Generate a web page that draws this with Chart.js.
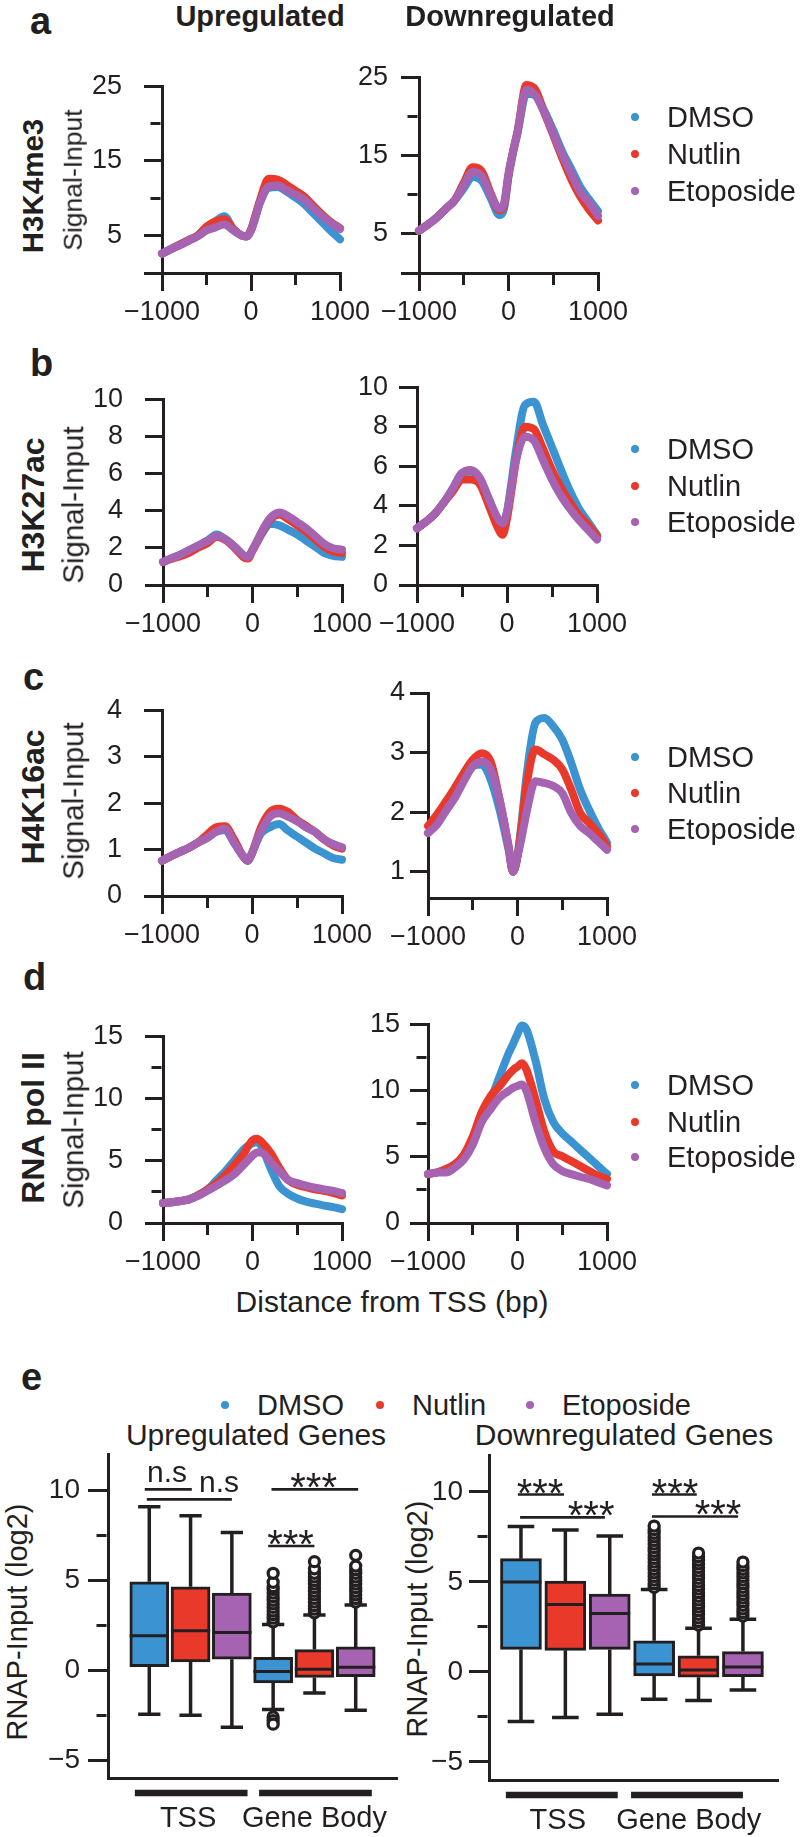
<!DOCTYPE html>
<html>
<head>
<meta charset="utf-8">
<script src="https://cdn.jsdelivr.net/npm/chart.js@4.4.1/dist/chart.umd.min.js"></script>
<style>
  body { margin: 0; background: #fff; }
  #fig { position: relative; width: 800px; height: 1837px; overflow: hidden;
         font-family: "Liberation Sans", Arial, Helvetica, sans-serif; color: #231f20; }
  #fig canvas { position: absolute; }
  .t { position: absolute; line-height: 1; white-space: nowrap; }
  .dot { position: absolute; width: 8px; height: 8px; border-radius: 50%; }
</style>
</head>
<body>
<div id="fig"></div>
<script>
// ---- data ----
const conditions = ['DMSO', 'Nutlin', 'Etoposide'];
const colors = ['#3b93d1', '#e8392b', '#a563b2'];
const distance = [-1000, -900, -800, -700, -600, -500, -400, -300, -200, -100, -50, 0, 50, 100, 200, 300, 400, 500, 600, 700, 800, 900, 1000];

// a: H3K4me3
const h3k4me3UpDMSO = [2.6, 3.2, 3.8, 4.4, 5.0, 6.1, 6.9, 7.6, 5.9, 5.0, 4.9, 5.7, 7.5, 9.4, 11.4, 11.5, 10.9, 10.1, 9.2, 8.0, 6.8, 5.6, 4.5];
const h3k4me3UpNutlin = [2.6, 3.2, 3.8, 4.4, 5.0, 6.2, 6.9, 7.2, 5.9, 5.0, 4.9, 5.8, 7.7, 9.7, 12.6, 12.5, 11.8, 11.0, 10.2, 9.0, 7.8, 6.8, 6.0];
const h3k4me3UpEtop = [2.6, 3.2, 3.7, 4.3, 4.9, 5.7, 6.1, 6.5, 5.7, 5.0, 4.9, 5.7, 7.5, 9.4, 11.6, 11.7, 11.1, 10.5, 9.8, 8.7, 7.6, 6.7, 5.9];
const h3k4me3DownDMSO = [5.4, 6.2, 7.1, 8.2, 9.3, 10.8, 12.3, 11.8, 9.6, 7.4, 8.2, 12.3, 15.3, 17.8, 22.9, 22.7, 20.7, 18.2, 15.5, 13.3, 11.0, 9.4, 7.9];
const h3k4me3DownNutlin = [5.4, 6.2, 7.1, 8.2, 9.3, 11.5, 13.5, 13.0, 10.2, 8.0, 8.6, 12.5, 15.5, 18.0, 24.0, 23.4, 20.5, 17.6, 14.7, 12.0, 9.8, 8.1, 6.7];
const h3k4me3DownEtop = [5.4, 6.2, 7.1, 8.2, 9.3, 11.2, 12.9, 12.4, 10.0, 8.2, 8.9, 12.7, 15.5, 18.0, 23.4, 22.7, 20.5, 17.8, 15.1, 12.7, 10.4, 9.0, 7.3];

// b: H3K27ac
const h3k27acUpDMSO = [1.24, 1.45, 1.65, 1.9, 2.14, 2.4, 2.72, 2.45, 2.06, 1.6, 1.5, 1.9, 2.3, 2.72, 3.3, 3.21, 2.97, 2.72, 2.39, 2.06, 1.73, 1.57, 1.52];
const h3k27acUpNutlin = [1.24, 1.42, 1.56, 1.76, 2.03, 2.26, 2.6, 2.42, 2.0, 1.5, 1.42, 1.85, 2.3, 2.8, 3.54, 3.79, 3.54, 3.21, 2.88, 2.47, 2.06, 1.81, 1.73];
const h3k27acUpEtop = [1.24, 1.45, 1.65, 1.9, 2.14, 2.39, 2.64, 2.45, 2.06, 1.6, 1.5, 1.9, 2.35, 2.85, 3.62, 3.9, 3.7, 3.38, 3.05, 2.64, 2.22, 1.98, 1.9];
const h3k27acDownDMSO = [2.87, 3.2, 3.6, 4.18, 4.9, 5.66, 5.74, 5.33, 4.34, 3.2, 3.03, 3.69, 5.2, 6.8, 9.1, 9.26, 8.1, 6.97, 5.82, 4.75, 3.85, 3.2, 2.54];
const h3k27acDownNutlin = [2.87, 3.2, 3.6, 4.18, 4.75, 5.33, 5.33, 5.08, 4.0, 2.87, 2.54, 3.36, 4.8, 6.3, 8.0, 7.87, 6.89, 5.82, 4.92, 4.18, 3.52, 3.03, 2.46];
const h3k27acDownEtop = [2.87, 3.2, 3.6, 4.18, 4.9, 5.66, 5.82, 5.41, 4.34, 3.36, 3.11, 3.69, 5.0, 6.3, 7.5, 7.3, 6.31, 5.33, 4.51, 3.85, 3.28, 2.79, 2.3];

// c: H4K16ac
const h4k16acUpDMSO = [0.76, 0.86, 0.95, 1.04, 1.15, 1.25, 1.38, 1.42, 1.15, 0.86, 0.76, 0.92, 1.15, 1.35, 1.48, 1.55, 1.41, 1.28, 1.15, 1.02, 0.92, 0.82, 0.78];
const h4k16acUpNutlin = [0.76, 0.86, 0.95, 1.04, 1.15, 1.32, 1.48, 1.5, 1.22, 0.86, 0.76, 0.92, 1.2, 1.48, 1.81, 1.88, 1.81, 1.64, 1.51, 1.38, 1.22, 1.09, 1.02];
const h4k16acUpEtop = [0.76, 0.86, 0.95, 1.04, 1.15, 1.25, 1.38, 1.45, 1.15, 0.86, 0.76, 0.92, 1.18, 1.4, 1.71, 1.78, 1.71, 1.61, 1.48, 1.38, 1.22, 1.12, 1.05];
const h4k16acDownDMSO = [1.65, 1.85, 2.1, 2.32, 2.58, 2.77, 2.8, 2.55, 2.04, 1.37, 1.0, 1.26, 1.88, 2.6, 3.5, 3.58, 3.44, 3.22, 2.83, 2.38, 2.04, 1.74, 1.49];
const h4k16acDownNutlin = [1.77, 1.96, 2.18, 2.41, 2.66, 2.88, 2.99, 2.85, 2.21, 1.43, 1.0, 1.26, 1.82, 2.44, 3.05, 2.97, 2.88, 2.72, 2.38, 1.99, 1.82, 1.65, 1.43];
const h4k16acDownEtop = [1.65, 1.79, 2.02, 2.24, 2.52, 2.77, 2.85, 2.72, 2.21, 1.43, 1.0, 1.26, 1.6, 1.99, 2.52, 2.49, 2.44, 2.32, 1.99, 1.77, 1.65, 1.51, 1.37];

// d: RNA pol II
const polUpDMSO = [1.6, 1.67, 1.77, 1.92, 2.26, 2.7, 3.44, 4.18, 5.04, 5.9, 6.2, 6.39, 6.52, 6.15, 4.43, 2.95, 2.34, 1.97, 1.72, 1.55, 1.4, 1.28, 1.11];
const polUpNutlin = [1.6, 1.67, 1.77, 1.92, 2.26, 2.7, 3.2, 3.88, 4.67, 5.53, 6.15, 6.64, 6.76, 6.52, 5.66, 4.43, 3.44, 3.07, 2.88, 2.7, 2.58, 2.41, 2.21];
const polUpEtop = [1.6, 1.67, 1.77, 1.92, 2.2, 2.6, 3.0, 3.44, 3.93, 4.67, 5.04, 5.41, 5.66, 5.66, 4.92, 4.18, 3.44, 3.2, 3.0, 2.83, 2.7, 2.58, 2.41];
const polDownDMSO = [3.69, 3.81, 4.06, 4.43, 4.92, 6.39, 8.11, 9.34, 11.06, 12.79, 13.5, 14.26, 14.9, 14.6, 12.29, 9.34, 7.62, 6.76, 6.15, 5.53, 4.92, 4.3, 3.69];
const polDownNutlin = [3.69, 3.81, 4.06, 4.43, 5.16, 6.52, 8.36, 9.59, 10.33, 11.19, 11.55, 11.8, 12.05, 11.56, 9.34, 6.88, 5.41, 5.04, 4.67, 4.3, 3.93, 3.57, 3.32];
const polDownEtop = [3.69, 3.81, 3.81, 4.18, 4.79, 5.9, 7.62, 8.6, 9.47, 9.96, 10.2, 10.33, 10.45, 9.96, 7.62, 5.66, 4.43, 3.93, 3.69, 3.49, 3.32, 3.07, 2.83];

// e: RNAP-Input box plots (boxes 1-3 TSS, 4-6 gene body; DMSO, Nutlin, Etoposide)
const boxPositions = [1, 2, 3, 4, 5, 6];
const upMin = [-2.45, -2.5, -3.17, -2.18, -1.27, -2.23];
const upQ1 = [0.2, 0.46, 0.62, -0.7, -0.4, -0.36];
const upMedian = [1.92, 2.2, 2.1, -0.07, 0.06, 0.17];
const upQ3 = [4.93, 4.65, 4.3, 0.72, 1.15, 1.3];
const upMax = [9.1, 8.6, 7.67, 2.55, 3.08, 3.63];
const upOutliers = [[], [], [],
  [2.7, 2.9, 3.1, 3.3, 3.5, 3.7, 3.9, 4.1, 4.3, 4.5, 4.65, 4.9, 5.4, -2.6, -2.8, -3.0],
  [3.2, 3.4, 3.6, 3.8, 4.0, 4.2, 4.4, 4.6, 4.8, 5.0, 5.2, 5.4, 5.65, 6.05],
  [3.8, 4.0, 4.2, 4.4, 4.6, 4.8, 5.0, 5.2, 5.4, 5.6, 5.8, 6.4]];
const downMin = [-2.75, -2.53, -2.35, -1.51, -1.59, -1.0];
const downQ1 = [1.25, 1.2, 1.25, -0.22, -0.29, -0.26];
const downMedian = [5.0, 3.75, 3.25, 0.44, 0.11, 0.27];
const downQ3 = [6.29, 5.04, 4.32, 1.73, 0.9, 1.13];
const downMax = [8.08, 7.88, 7.55, 4.58, 2.42, 2.93];
const downOutliers = [[], [], [],
  [4.7, 4.9, 5.1, 5.3, 5.5, 5.7, 5.9, 6.1, 6.3, 6.5, 6.7, 6.9, 7.1, 7.3, 7.5, 7.7, 7.9, 8.1],
  [2.6, 2.8, 3.0, 3.2, 3.4, 3.6, 3.8, 4.0, 4.2, 4.4, 4.6, 4.8, 5.0, 5.2, 5.4, 5.6, 5.8, 6.0, 6.2, 6.4, 6.6],
  [3.1, 3.3, 3.5, 3.7, 3.9, 4.1, 4.3, 4.5, 4.7, 4.9, 5.1, 5.3, 5.5, 5.7, 5.9, 6.1]];

const upSignif = [
  { from: 0.89, to: 2.03, y: 10.07, text: 'n.s', at: 1.43 },
  { from: 0.94, to: 3.0, y: 9.52, text: 'n.s', at: 2.69 },
  { from: 3.96, to: 6.06, y: 10.07, text: '***', at: 4.98 },
  { from: 3.88, to: 5.0, y: 6.92, text: '***', at: 4.42 }
];
const downSignif = [
  { from: 0.93, to: 1.97, y: 9.85, text: '***', at: 1.43 },
  { from: 0.98, to: 2.89, y: 8.58, text: '***', at: 2.58 },
  { from: 3.95, to: 4.96, y: 9.85, text: '***', at: 4.47 },
  { from: 3.95, to: 5.89, y: 8.63, text: '***', at: 5.44 }
];
const upGroups = [{ label: 'TSS', from: 0.65, to: 3.38, at: 1.94 }, { label: 'Gene Body', from: 3.66, to: 6.39, at: 5.0 }];
const downGroups = [{ label: 'TSS', from: 0.66, to: 3.18, at: 1.83 }, { label: 'Gene Body', from: 3.48, to: 6.0, at: 4.78 }];

// ---- helpers ----
const ink = '#231f20';
const FONT = '"Liberation Sans", Arial, Helvetica, sans-serif';
Chart.defaults.font.family = FONT;
Chart.defaults.color = ink;
const fig = document.getElementById('fig');
const minus = v => (v < 0 ? '\u2212' + Math.abs(v) : String(v));

function addCanvas(left, top, width, height) {
  const c = document.createElement('canvas');
  c.width = width; c.height = height;
  Object.assign(c.style, { left: left + 'px', top: top + 'px', width: width + 'px', height: height + 'px' });
  fig.appendChild(c);
  return c;
}

// text with baseline at y
function text(str, x, y, size, bold, align) {
  const d = document.createElement('div');
  d.className = 't';
  d.textContent = str;
  d.style.fontSize = size + 'px';
  d.style.fontWeight = bold ? 'bold' : 'normal';
  d.style.top = (y - 0.8465 * size) + 'px';
  d.style.left = x + 'px';
  if (align === 'center') d.style.transform = 'translateX(-50%)';
  fig.appendChild(d);
}
// rotated text, centred on (x, y)
function vtext(str, x, y, size, bold) {
  const d = document.createElement('div');
  d.className = 't';
  d.textContent = str;
  d.style.fontSize = size + 'px';
  d.style.fontWeight = bold ? 'bold' : 'normal';
  d.style.left = x + 'px';
  d.style.top = y + 'px';
  d.style.transform = 'translate(-50%,-50%) rotate(-90deg)';
  fig.appendChild(d);
}
function legend(x, ys) {
  conditions.forEach((name, i) => {
    const dot = document.createElement('div');
    dot.className = 'dot';
    dot.style.background = colors[i];
    dot.style.left = (x - 4) + 'px';
    dot.style.top = (ys[i] - 4) + 'px';
    fig.appendChild(dot);
    text(name, x + 32, ys[i] + 10.4, 29, false);
  });
}

function yAxis(o) {
  const tl = o.tickLength || 18, ml = o.minorLength || 10;
  return {
    type: 'linear', min: o.min, max: o.max,
    afterFit: s => { s.width = o.width; },
    border: { color: ink, width: 3 },
    grid: {
      drawOnChartArea: false, color: ink, tickColor: ink, lineWidth: 3, tickWidth: 3, tickLength: tl,
      tickBorderDash: c => (c.tick && o.minor(c.tick.value) ? [0, tl - ml - 1.5, ml, 300] : [])
    },
    ticks: {
      stepSize: o.step, padding: o.padding, autoSkip: false, includeBounds: o.includeBounds !== false,
      font: { size: o.fontSize || 27 }, color: ink,
      callback: v => (o.label(v) ? minus(v) : '')
    }
  };
}

function profileChart(area, series, yOpts) {
  const yW = 100, xH = 60, padT = 22, padR = 50;
  const canvas = addCanvas(area.left - yW, area.top - padT, area.right - area.left + yW + padR, area.bottom - area.top + padT + xH);
  new Chart(canvas, {
    type: 'line',
    data: {
      datasets: series.map((vals, i) => ({
        label: conditions[i],
        data: distance.map((d, k) => ({ x: d, y: vals[k] })),
        borderColor: colors[i], backgroundColor: colors[i],
        borderWidth: 8, pointRadius: 0, cubicInterpolationMode: 'monotone',
        borderCapStyle: 'round', borderJoinStyle: 'round', clip: false, order: 3 - i
      }))
    },
    options: {
      responsive: false, animation: false, events: [],
      layout: { padding: { top: padT, right: padR, left: 0, bottom: 0 }, autoPadding: false },
      plugins: { legend: { display: false }, tooltip: { enabled: false } },
      scales: {
        x: {
          type: 'linear', min: -1000, max: 1000,
          afterFit: s => { s.height = xH; },
          border: { color: ink, width: 3 },
          grid: {
            drawOnChartArea: false, color: ink, tickColor: ink, lineWidth: 3, tickWidth: 3, tickLength: 18,
            tickBorderDash: c => (c.tick && c.tick.value % 1000 !== 0 ? [10, 300] : [])
          },
          ticks: {
            stepSize: 500, padding: 5, autoSkip: false, maxRotation: 0, font: { size: 27 }, color: ink,
            callback: v => (v % 1000 === 0 ? minus(v) : '')
          }
        },
        y: yAxis(Object.assign({ width: yW }, yOpts))
      }
    }
  });
}

const boxAnnotations = {
  id: 'boxAnnotations',
  afterDatasetsDraw(chart, args, o) {
    const { ctx, chartArea } = chart;
    const x = chart.scales.x, y = chart.scales.y;
    ctx.save();
    ctx.strokeStyle = ink; ctx.fillStyle = ink; ctx.textAlign = 'center'; ctx.textBaseline = 'alphabetic';
    o.signif.forEach(s => {
      const yy = y.getPixelForValue(s.y);
      ctx.lineWidth = 2.7;
      ctx.beginPath();
      ctx.moveTo(x.getPixelForValue(s.from), yy);
      ctx.lineTo(x.getPixelForValue(s.to), yy);
      ctx.stroke();
      if (s.text === 'n.s') {
        ctx.font = '30px ' + FONT;
        ctx.fillText(s.text, x.getPixelForValue(s.at), yy - 7);
      } else {
        ctx.font = '40px ' + FONT;
        ctx.fillText(s.text, x.getPixelForValue(s.at), yy + 12);
      }
    });
    ctx.font = '29px ' + FONT;
    o.groups.forEach(g => {
      ctx.lineWidth = 6.5;
      ctx.beginPath();
      ctx.moveTo(x.getPixelForValue(g.from), chartArea.bottom + 15);
      ctx.lineTo(x.getPixelForValue(g.to), chartArea.bottom + 15);
      ctx.stroke();
      ctx.fillText(g.label, x.getPixelForValue(g.at), chartArea.bottom + 49);
    });
    ctx.restore();
  }
};

function boxChart(area, st, o) {
  const yW = 100, padT = 22, padR = 20, xH = 1837 - area.bottom;
  const canvas = addCanvas(area.left - yW, area.top - padT, area.right - area.left + yW + padR, area.bottom - area.top + padT + xH);
  const pxPerUnit = (area.right - area.left) / (o.xMax - o.xMin);
  const half = o.boxWidth / 2;
  const whiskers = [], medians = [], outliers = [];
  boxPositions.forEach((p, i) => {
    whiskers.push({ x: p, y: st.q3[i] }, { x: p, y: st.max[i] }, { x: p, y: null },
      { x: p - o.cap, y: st.max[i] }, { x: p + o.cap, y: st.max[i] }, { x: p, y: null },
      { x: p, y: st.q1[i] }, { x: p, y: st.min[i] }, { x: p, y: null },
      { x: p - o.cap, y: st.min[i] }, { x: p + o.cap, y: st.min[i] }, { x: p, y: null });
    medians.push({ x: p - half, y: st.median[i] }, { x: p + half, y: st.median[i] }, { x: p, y: null });
    st.outliers[i].forEach(v => outliers.push({ x: p, y: v }));
  });
  new Chart(canvas, {
    type: 'bar',
    data: {
      datasets: [
        {
          type: 'bar', data: boxPositions.map((p, i) => ({ x: p, y: [st.q1[i], st.q3[i]] })),
          backgroundColor: boxPositions.map((p, i) => colors[i % 3]),
          borderColor: ink, borderWidth: 3, borderSkipped: false,
          barThickness: Math.round(o.boxWidth * pxPerUnit), order: 2
        },
        { type: 'line', data: whiskers, borderColor: ink, borderWidth: 3.5, pointRadius: 0, spanGaps: false, order: 3 },
        { type: 'line', data: medians, borderColor: ink, borderWidth: 3, pointRadius: 0, spanGaps: false, order: 1 },
        {
          type: 'line', data: outliers, showLine: false, pointRadius: 5, pointBorderWidth: 3.3,
          pointBackgroundColor: '#fff', pointBorderColor: ink, clip: false, order: 0
        }
      ]
    },
    options: {
      responsive: false, animation: false, events: [],
      layout: { padding: { top: padT, right: padR, left: 0, bottom: 0 }, autoPadding: false },
      plugins: {
        legend: { display: false }, tooltip: { enabled: false },
        boxAnnotations: { signif: o.signif, groups: o.groups }
      },
      scales: {
        x: {
          type: 'linear', min: o.xMin, max: o.xMax, offset: false,
          afterFit: s => { s.height = xH; },
          border: { color: ink, width: 3 },
          grid: { display: false, offset: false },
          ticks: { display: false }
        },
        y: yAxis({
          width: yW, min: -6, max: 12, step: 2.5, padding: o.labelPadding, includeBounds: false,
          tickLength: 20, minorLength: 10, fontSize: 28,
          label: v => v % 5 === 0, minor: v => v % 5 !== 0
        })
      }
    },
    plugins: [boxAnnotations]
  });
}

// ---- panels a-d ----
const rows = [
  {
    name: 'H3K4me3', letter: 'a', letterX: 30, letterY: 34,
    up: [h3k4me3UpDMSO, h3k4me3UpNutlin, h3k4me3UpEtop], down: [h3k4me3DownDMSO, h3k4me3DownNutlin, h3k4me3DownEtop],
    left: { left: 162, right: 340, top: 70, bottom: 273 }, right: { left: 419, right: 598, top: 70, bottom: 273 },
    y: { min: 0, max: 25, step: 5, label: v => v % 10 === 5, minor: v => v === 10 || v === 20 },
    rightPad: 13, legendY: [117, 154, 191], nameY: 186, sigY: 180, nameSize: 29.5, sigSize: 26.5
  },
  {
    name: 'H3K27ac', letter: 'b', letterX: 30, letterY: 376,
    up: [h3k27acUpDMSO, h3k27acUpNutlin, h3k27acUpEtop], down: [h3k27acDownDMSO, h3k27acDownNutlin, h3k27acDownEtop],
    left: { left: 163, right: 342, top: 383, bottom: 585 }, right: { left: 417, right: 597, top: 382, bottom: 585 },
    y: { min: 0, max: 10, step: 2, label: () => true, minor: () => false },
    rightPad: 11, legendY: [449, 486, 522], nameY: 505, sigY: 505, nameSize: 32, sigSize: 29.5
  },
  {
    name: 'H4K16ac', letter: 'c', letterX: 23, letterY: 690,
    up: [h4k16acUpDMSO, h4k16acUpNutlin, h4k16acUpEtop], down: [h4k16acDownDMSO, h4k16acDownNutlin, h4k16acDownEtop],
    left: { left: 162, right: 342, top: 694, bottom: 896 }, right: { left: 428, right: 607, top: 693, bottom: 898 },
    y: { min: 0, max: 4, step: 1, label: () => true, minor: () => false },
    rightMin: 0.56, rightPad: 5, legendY: [757, 793, 829], nameY: 797, sigY: 801, nameSize: 32, sigSize: 29.5
  },
  {
    name: 'RNA pol II', letter: 'd', letterX: 23, letterY: 990,
    up: [polUpDMSO, polUpNutlin, polUpEtop], down: [polDownDMSO, polDownNutlin, polDownEtop],
    left: { left: 163, right: 342, top: 1020, bottom: 1223 }, right: { left: 428, right: 607, top: 1020, bottom: 1223 },
    y: { min: 0, max: 15, step: 2.5, label: v => v % 5 === 0, minor: v => v % 5 !== 0 },
    rightPad: 10, legendY: [1085, 1122, 1157], nameY: 1128, sigY: 1130, nameSize: 32, sigSize: 29.5
  }
];

rows.forEach(r => {
  profileChart(r.left, r.up, Object.assign({ padding: 22 }, r.y));
  const yr = Object.assign({ padding: r.rightPad }, r.y);
  if (r.rightMin !== undefined) { yr.min = r.rightMin; yr.includeBounds = false; }
  profileChart(r.right, r.down, yr);
  text(r.letter, r.letterX, r.letterY, 38, true);
  vtext(r.name, 33, r.nameY, r.nameSize, true);
  vtext('Signal-Input', 72.5, r.sigY, r.sigSize, false);
  legend(635, r.legendY);
});

text('Upregulated', 260, 27, 29, true, 'center');
text('Downregulated', 510, 27, 29, true, 'center');
text('Distance from TSS (bp)', 392, 1312, 30, false, 'center');

// ---- panel e ----
text('e', 21, 1390, 38, true);
[[225, 0], [380, 1], [530, 2]].forEach(([x, i]) => {
  const dot = document.createElement('div');
  dot.className = 'dot';
  dot.style.background = colors[i];
  dot.style.left = (x - 4) + 'px';
  dot.style.top = (1405 - 4) + 'px';
  fig.appendChild(dot);
  text(conditions[i], x + 32, 1415.4, 29, false);
});
text('Upregulated Genes', 256, 1445, 30, false, 'center');
text('Downregulated Genes', 624, 1445, 30, false, 'center');
vtext('RNAP-Input (log2)', 17, 1622, 29, false);
vtext('RNAP-Input (log2)', 417, 1619, 29, false);

boxChart({ left: 108, right: 397, top: 1452, bottom: 1778 },
  { min: upMin, q1: upQ1, median: upMedian, q3: upQ3, max: upMax, outliers: upOutliers },
  { xMin: 0, xMax: 7, boxWidth: 0.95, cap: 0.27, labelPadding: 8, signif: upSignif, groups: upGroups });
boxChart({ left: 489, right: 778, top: 1455, bottom: 1780 },
  { min: downMin, q1: downQ1, median: downMedian, q3: downQ3, max: downMax, outliers: downOutliers },
  { xMin: 0.28, xMax: 6.79, boxWidth: 0.92, cap: 0.3, labelPadding: 6, signif: downSignif, groups: downGroups });
</script>
</body>
</html>
